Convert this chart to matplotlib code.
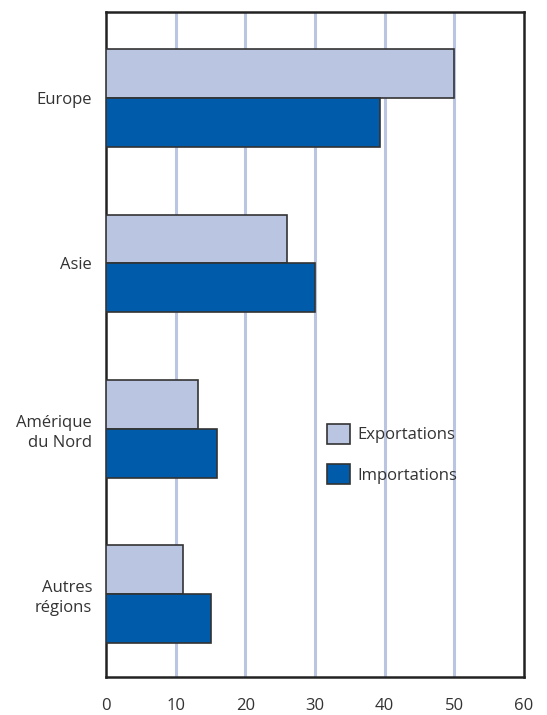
import matplotlib.pyplot as plt
from matplotlib.patches import Patch

regions = ["Europe", "Asie", "Amérique\ndu Nord", "Autres\nrégions"]
exportations = [50.0, 26.0, 13.2, 11.1]
importations = [39.3, 30.0, 15.9, 15.0]
series_labels = ["Exportations", "Importations"]
x_ticks = [0, 10, 20, 30, 40, 50, 60]

light = "#BAC5E2"
dark = "#005BAA"
edge = "#333333"
text_col = "#333333"

plt.rcParams["font.family"] = ["Open Sans", "DejaVu Sans"]

fig = plt.figure(figsize=(5.47, 7.15), dpi=100)
ax = fig.add_axes([106 / 547, 1 - 677 / 715, 418 / 547, 665 / 715])

h = 0.295
pos = list(range(len(regions)))
ax.barh([p - h / 2 for p in pos], exportations, height=h, color=light,
        edgecolor=edge, linewidth=1.2, zorder=3)
ax.barh([p + h / 2 for p in pos], importations, height=h, color=dark,
        edgecolor=edge, linewidth=1.2, zorder=3)

ax.set_xlim(0, 60)
ax.set_ylim(3.5, -0.52)
ax.set_xticks(x_ticks)
ax.set_yticks(pos)
ax.set_yticklabels(regions, linespacing=1.35)
ax.tick_params(axis="both", length=0, labelsize=12, colors=text_col)
ax.tick_params(axis="x", pad=15)
ax.tick_params(axis="y", pad=10)

for v in x_ticks[1:-1]:
    ax.axvline(v, color=light, linewidth=2.2, zorder=1)

for s in ax.spines.values():
    s.set_linewidth(1.8)
    s.set_color("#222222")

handles = [Patch(facecolor=light, edgecolor=edge, linewidth=1.2),
           Patch(facecolor=dark, edgecolor=edge, linewidth=1.2)]
leg = ax.legend(handles, series_labels, loc="upper left",
                bbox_to_anchor=(0.513, 0.39), frameon=False, fontsize=12,
                handlelength=1.35, handleheight=1.4, labelspacing=1.25,
                handletextpad=0.45, borderaxespad=0)
for t in leg.get_texts():
    t.set_color(text_col)

fig.savefig("out.png", dpi=100)
